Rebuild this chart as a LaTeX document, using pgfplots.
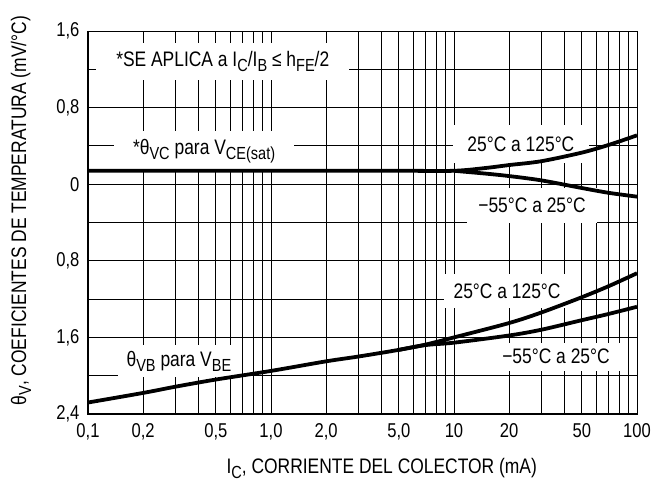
\documentclass[border=0pt]{standalone}
\usepackage{pgfplots}
\pgfplotsset{compat=1.18}
\usepackage{fontspec}
\setmainfont{Liberation Sans}[FakeStretch=0.83]
\newcommand\sub[1]{\raisebox{-0.45ex}{\fontsize{17.5bp}{18bp}\selectfont #1}}
\newcommand\lbl{\fontsize{21bp}{23bp}\selectfont}
\newcommand\tkl{\fontsize{20bp}{22bp}\selectfont}
\begin{document}
\begin{tikzpicture}
\begin{axis}[
  scale only axis, width=549bp, height=383bp,
  xmode=log, log basis x=10, xmin=0.1, xmax=100, ymin=-2.4, ymax=1.6,
  xtick={0.1,0.2,0.5,1,2,5,10,20,50,100},
  xticklabels={{0,1},{0,2},{0,5},{1,0},{2,0},{5,0},{10},{20},{50},{100}},
  minor xtick={0.3,0.4,0.6,0.7,0.8,0.9,3,4,6,7,8,9,30,40,60,70,80,90},
  ytick={-2.4,-1.6,-0.8,0,0.8,1.6},
  yticklabels={{2,4},{1,6},{0,8},{0},{0,8},{1,6}},
  minor ytick={-2,-1.2,-0.4,0.4,1.2},
  grid=both,
  major grid style={black, line width=0.9pt},
  minor grid style={black, line width=0.9pt},
  major tick length=0pt, minor tick length=0pt,
  axis line style={line width=0.9pt},
  tick label style={font=\tkl},
  /pgf/number format/assume math mode=true,
  xticklabel style={yshift=-6bp},
  yticklabel style={xshift=-5bp},
  xlabel={I\sub{C}, CORRIENTE DEL COLECTOR (mA)},
  ylabel={θ\sub{V}, COEFICIENTES DE TEMPERATURA (mV/°C)},
  label style={font=\lbl},
  xlabel style={at={(axis description cs:0.535,-0.142)}, anchor=center},
  ylabel style={at={(axis description cs:-0.122,0.531)}, anchor=center},
]
% label boxes (drawn before the curves)
\node[fill=white, inner sep=0pt, minimum width=253bp, minimum height=37bp, font=\lbl] at (axis cs:0.545,1.281) {*SE APLICA a I\sub{C}/I\sub{B} ≤ h\sub{FE}/2};
\node[fill=white, inner sep=0pt, minimum width=180bp, minimum height=40bp, font=\lbl] at (axis cs:0.431,0.347) {*θ\sub{VC} para V\sub{CE(sat)}};
\node[fill=white, inner sep=0pt, minimum width=136bp, minimum height=38bp, font=\lbl] at (axis cs:23.2,0.42) {25°C a 125°C};
\node[fill=white, inner sep=0pt, minimum width=130bp, minimum height=35bp, font=\lbl] at (axis cs:26.7,-0.225) {−55°C a 25°C};
\node[fill=white, inner sep=0pt, minimum width=127bp, minimum height=34bp, font=\lbl] at (axis cs:19.5,-1.12) {25°C a 125°C};
\node[fill=white, inner sep=0pt, minimum width=132bp, minimum height=28bp, font=\lbl] at (axis cs:36.1,-1.80) {−55°C a 25°C};
\node[fill=white, inner sep=0pt, minimum width=122bp, minimum height=32bp, font=\lbl] at (axis cs:0.314,-1.85) {θ\sub{VB} para V\sub{BE}};
% theta VC
\addplot[black, line width=3.8pt, smooth] coordinates {(0.1,0.14) (1,0.14) (5,0.14) (10,0.14) (15,0.17) (20,0.20) (30,0.24) (50,0.33) (70,0.41) (100,0.51)};
\addplot[black, line width=3.8pt, smooth] coordinates {(10,0.14) (15,0.11) (20,0.085) (30,0.04) (50,-0.04) (70,-0.09) (100,-0.13)};
% theta VB
\addplot[black, line width=3.8pt, smooth] coordinates {(0.1,-2.28) (0.2,-2.18) (0.3,-2.115) (0.5,-2.04) (1,-1.95) (2,-1.85) (3,-1.80) (5,-1.73) (7,-1.675) (10,-1.60) (20,-1.45) (30,-1.34) (50,-1.18) (70,-1.065) (100,-0.93)};
\addplot[black, line width=3.8pt, smooth] coordinates {(5,-1.73) (7,-1.68) (10,-1.655) (20,-1.58) (30,-1.52) (50,-1.42) (70,-1.355) (100,-1.28)};
\end{axis}
\draw[line width=2.6pt, line join=miter] (current axis.north west) -- (current axis.south west) -- (current axis.south east);
\pgfresetboundingbox
\path[use as bounding box] ([shift={(-88bp,-67bp)}]current axis.south west) rectangle ([shift={(26bp,31bp)}]current axis.north east);
\end{tikzpicture}
\end{document}
